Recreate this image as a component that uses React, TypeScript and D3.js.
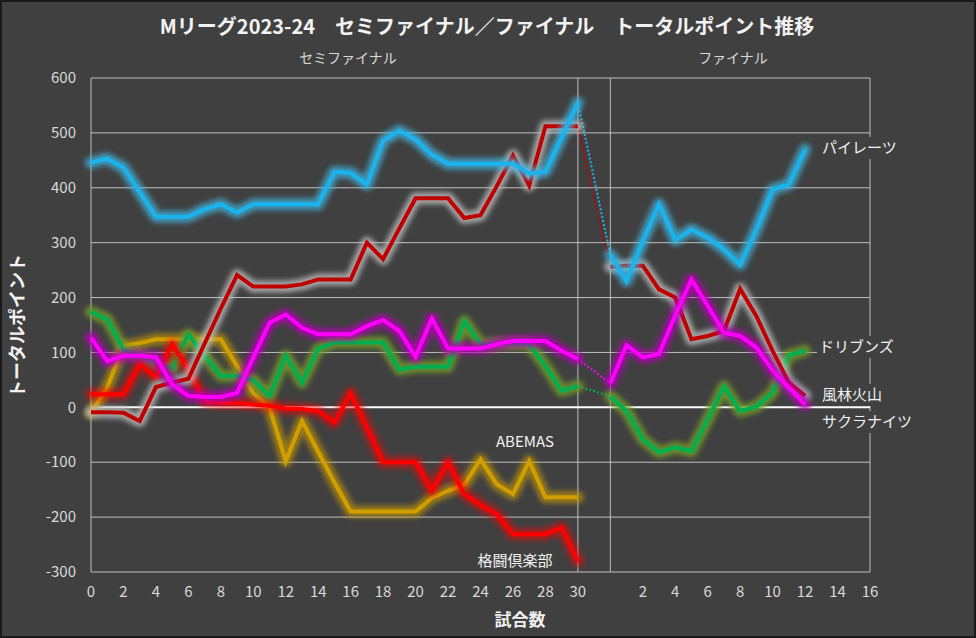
import React from "react";
import * as d3 from "d3";

const W = 976;
const H = 638;

// semifinal games 0..30, final games 0..12 (final plotted at x = 32 + game)
const FINAL_OFFSET = 32;
const semiTicks = [0, 2, 4, 6, 8, 10, 12, 14, 16, 18, 20, 22, 24, 26, 28, 30];
const finalTicks = [2, 4, 6, 8, 10, 12, 14, 16];
const yTicks = [-300, -200, -100, 0, 100, 200, 300, 400, 500, 600];

const piratesSemi = [446, 453, 437, 392, 347, 347, 347, 361, 370, 355, 370, 370, 370, 370, 370, 429, 427, 406, 486, 504, 488, 460, 444, 444, 444, 444, 444, 426, 429, 492, 555];
const piratesFinal = [278, 230, 303, 370, 305, 324, 309, 288, 260, 324, 397, 406, 470];

const furinSemi = [-9, -9, -10, -25, 37, 45, 52, 116, 180, 241, 220, 220, 220, 224, 233, 233, 233, 300, 270, 326, 381, 381, 381, 345, 350, 403, 459, 404, 512, 512, 512];
const furinFinal = [256, 258, 258, 215, 200, 124, 130, 139, 216, 166, 103, 45, 21];

const sakuraSemi = [127, 84, 94, 94, 91, 42, 21, 19, 19, 26, 91, 154, 169, 145, 133, 133, 133, 148, 159, 139, 92, 162, 107, 107, 107, 115, 121, 121, 121, 103, 88];
const sakuraFinal = [44, 113, 91, 97, 168, 233, 185, 136, 130, 109, 67, 36, 5];

const drivensSemi = [174, 160, 105, 95, 80, 72, 133, 94, 57, 57, 50, 20, 94, 45, 107, 118, 118, 118, 118, 69, 74, 74, 74, 157, 115, 116, 116, 115, 75, 30, 39];
const drivensFinal = [20, -7, -58, -82, -73, -80, -22, 38, -7, 1, 27, 95, 103];

const abemasSemi = [-10, 36, 112, 117, 124, 124, 124, 124, 124, 75, 26, 0, -98, -25, -81, -137, -190, -190, -190, -190, -190, -165, -152, -141, -95, -140, -158, -98, -164, -164, -164];

const kakutoSemi = [24, 24, 24, 79, 55, 115, 69, 11, 8, 8, 5, 3, -2, -3, -7, -28, 26, -37, -100, -100, -100, -152, -100, -158, -178, -195, -231, -231, -231, -219, -280];

type Series = {
  name: string;
  semi: number[];
  final: number[] | null;
  color: string;
  glow: string;
  glowOpacity: number;
};

const series: Series[] = [
  { name: "ABEMAS", semi: abemasSemi, final: null, color: "#d19e00", glow: "#d19e00", glowOpacity: 0.6 },
  { name: "ドリブンズ", semi: drivensSemi, final: drivensFinal, color: "#00b050", glow: "#6e9a2a", glowOpacity: 0.85 },
  { name: "格闘倶楽部", semi: kakutoSemi, final: null, color: "#ff0000", glow: "#ff0000", glowOpacity: 0.55 },
  { name: "風林火山", semi: furinSemi, final: furinFinal, color: "#c00000", glow: "#bdbdbd", glowOpacity: 0.8 },
  { name: "サクラナイツ", semi: sakuraSemi, final: sakuraFinal, color: "#ff00ff", glow: "#b400b4", glowOpacity: 0.8 },
  { name: "パイレーツ", semi: piratesSemi, final: piratesFinal, color: "#19b4ee", glow: "#3fb8e6", glowOpacity: 0.7 },
];

const endLabels = [
  { name: "パイレーツ", x: 822, y: 148 },
  { name: "ドリブンズ", x: 819, y: 347 },
  { name: "風林火山", x: 822, y: 395 },
  { name: "サクラナイツ", x: 822, y: 422 },
];
const midLabels = [
  { name: "ABEMAS", x: 525, y: 442 },
  { name: "格闘倶楽部", x: 515, y: 561 },
];

const FONT = "'Noto Sans CJK JP', 'Noto Sans', sans-serif";

export default function App() {
  const x = d3.scaleLinear().domain([0, 48]).range([91, 870]);
  const y = d3.scaleLinear().domain([-300, 600]).range([572, 78]);
  const line = d3
    .line<[number, number]>()
    .x((d) => x(d[0]))
    .y((d) => y(d[1]));

  const grid = "#bfbfbf";
  const tickColor = "#d9d9d9";

  return (
    <svg
      width={W}
      height={H}
      style={{ position: "absolute", left: 0, top: 0, display: "block" }}
      fontFamily={FONT}
    >
      <defs>
        <filter id="glow" x="-10%" y="-10%" width="120%" height="120%">
          <feGaussianBlur stdDeviation="2.6" />
        </filter>
      </defs>
      <rect x={0} y={0} width={W} height={H} fill="#404040" />
      <rect x={1} y={1} width={W - 2} height={H - 2} fill="none" stroke="#1a1a1a" strokeWidth={2} />

      {/* gridlines */}
      {yTicks.map((t) =>
        t === 0 ? null : (
          <line key={t} x1={x(0)} x2={x(48)} y1={y(t)} y2={y(t)} stroke={grid} strokeWidth={1} />
        )
      )}
      <line x1={x(0)} x2={x(0)} y1={y(600)} y2={y(-300)} stroke={grid} strokeWidth={1} />
      <line x1={x(30)} x2={x(30)} y1={y(600)} y2={y(-300)} stroke={grid} strokeWidth={1} />
      <line x1={x(FINAL_OFFSET)} x2={x(FINAL_OFFSET)} y1={y(600)} y2={y(-300)} stroke={grid} strokeWidth={1} />
      <line x1={x(48)} x2={x(48)} y1={y(600)} y2={y(-300)} stroke={grid} strokeWidth={1} />
      <line x1={x(0)} x2={x(48)} y1={y(0)} y2={y(0)} stroke="#ffffff" strokeWidth={2} />

      {/* y tick labels */}
      {yTicks.map((t) => (
        <text key={t} x={76} y={y(t)} dy="0.35em" textAnchor="end" fontSize={15} fill={tickColor}>
          {t}
        </text>
      ))}
      {/* x tick labels */}
      {semiTicks.map((t) => (
        <text key={"s" + t} x={x(t)} y={597} textAnchor="middle" fontSize={15} fill={tickColor}>
          {t}
        </text>
      ))}
      {finalTicks.map((t) => (
        <text key={"f" + t} x={x(t + FINAL_OFFSET)} y={597} textAnchor="middle" fontSize={15} fill={tickColor}>
          {t}
        </text>
      ))}

      {/* dotted connectors */}
      {series.map((s) =>
        s.final ? (
          <path
            key={"c" + s.name}
            d={line([
              [30, s.semi[s.semi.length - 1]],
              [FINAL_OFFSET, s.final[0]],
            ]) || ""}
            fill="none"
            stroke={s.color}
            strokeWidth={2}
            strokeDasharray="2,2"
          />
        ) : null
      )}

      {/* series lines */}
      {series.map((s) => {
        const semiPts = s.semi.map((v, i) => [i, v] as [number, number]);
        const finPts = s.final ? s.final.map((v, i) => [i + FINAL_OFFSET, v] as [number, number]) : null;
        const paths = [line(semiPts) || ""];
        if (finPts) paths.push(line(finPts) || "");
        return (
          <g key={s.name}>
            {paths.map((d, j) => (
              <path
                key={"g" + j}
                d={d}
                fill="none"
                stroke={s.glow}
                strokeOpacity={s.glowOpacity}
                strokeWidth={12}
                strokeLinejoin="round"
                strokeLinecap="round"
                filter="url(#glow)"
              />
            ))}
            {paths.map((d, j) => (
              <path key={"m" + j} d={d} fill="none" stroke={s.color} strokeWidth={4} strokeLinejoin="miter" />
            ))}
          </g>
        );
      })}

      {/* labels */}
      {endLabels.map((l) => (
        <g key={l.name}>
          <rect x={l.x - 2} y={l.y - 11} width={l.name.length * 15 + 4} height={22} fill="#404040" />
          <text x={l.x} y={l.y} dy="0.35em" fontSize={15} fill="#f2f2f2">
            {l.name}
          </text>
        </g>
      ))}
      {midLabels.map((l) => (
        <text key={l.name} x={l.x} y={l.y} dy="0.35em" textAnchor="middle" fontSize={15} fill="#f2f2f2">
          {l.name}
        </text>
      ))}

      {/* titles */}
      <text x={487} y={34} textAnchor="middle" fontSize={20} fontWeight="bold" fill="#f2f2f2">
        Mリーグ2023-24　セミファイナル／ファイナル　トータルポイント推移
      </text>
      <text x={348} y={58} dy="0.35em" textAnchor="middle" fontSize={14} fill={tickColor}>
        セミファイナル
      </text>
      <text x={733} y={58} dy="0.35em" textAnchor="middle" fontSize={14} fill={tickColor}>
        ファイナル
      </text>
      <text x={520} y={620} dy="0.35em" textAnchor="middle" fontSize={17} fontWeight="bold" fill="#f2f2f2">
        試合数
      </text>
      <text
        transform={`translate(18,326) rotate(-90)`}
        dy="0.35em"
        textAnchor="middle"
        fontSize={18}
        fontWeight="bold"
        fill="#f2f2f2"
      >
        トータルポイント
      </text>
    </svg>
  );
}
